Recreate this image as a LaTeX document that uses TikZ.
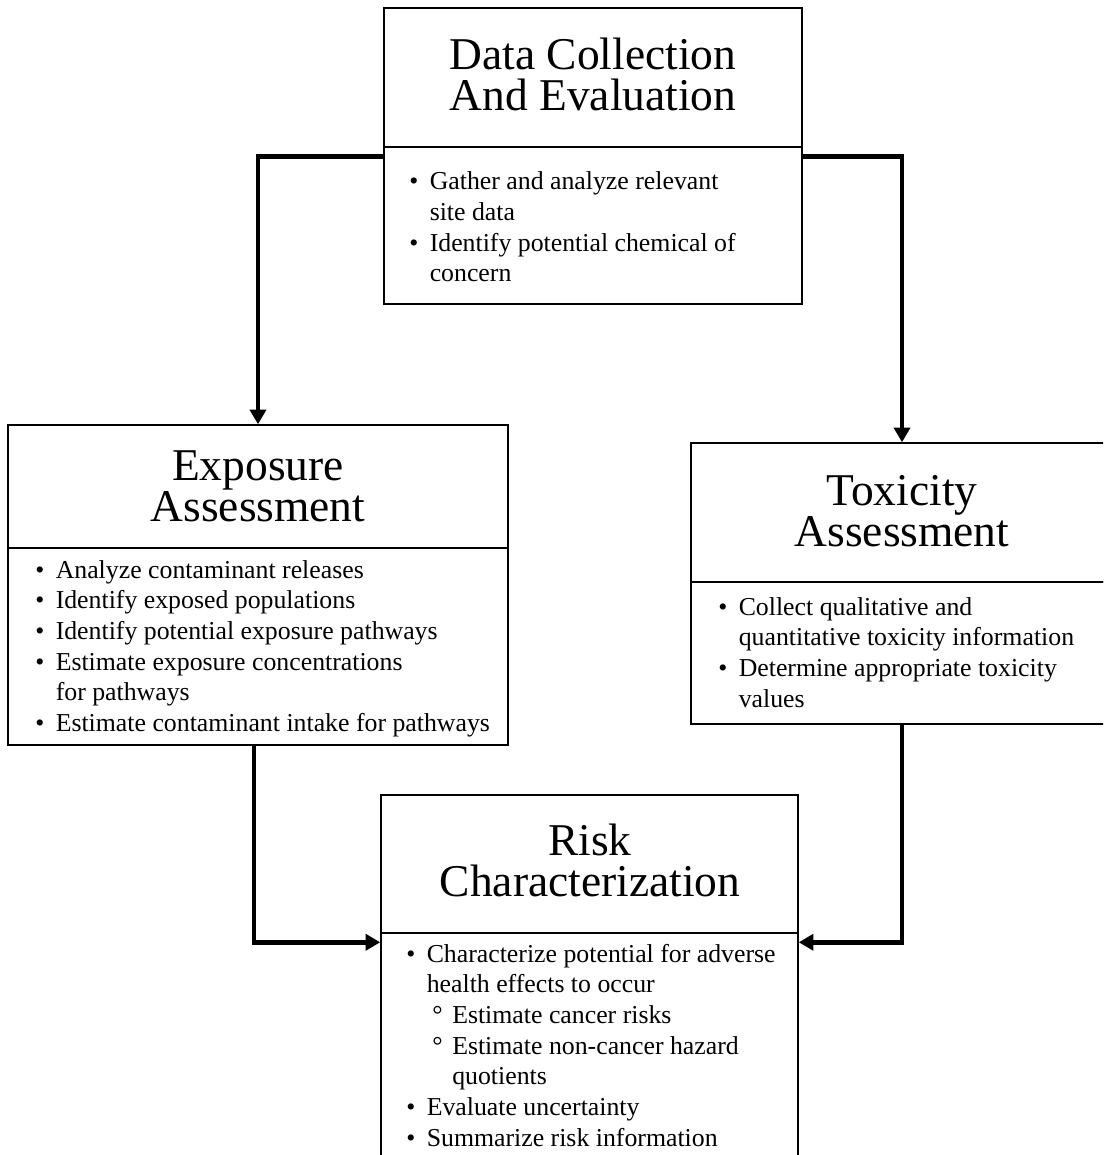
\documentclass[tikz,border=0pt]{standalone}
\usepackage{fontspec}
\setmainfont{Liberation Serif}
\usetikzlibrary{fit,arrows.meta}
\newlength\pxu
\setlength\pxu{0.75pt}
\newcommand{\titletxt}[1]{\begin{minipage}[t]{560\pxu}\centering\fontsize{34.1}{30.75}\selectfont #1\end{minipage}}
\newcommand{\bodytxt}[1]{\begin{minipage}[t]{560\pxu}\fontsize{19.35}{23}\selectfont\setlength\parindent{0pt}#1\end{minipage}}
\newcommand{\bl}{\makebox[20.5\pxu][l]{\textbullet}}
\newcommand{\ind}{\hspace*{20.5\pxu}}
\newcommand{\sbl}{\hspace*{26\pxu}\makebox[20\pxu][l]{°}}
\newcommand{\sind}{\hspace*{46\pxu}}
\begin{document}
\begin{tikzpicture}[x=0.75pt,y=-0.75pt,
  boxpart/.style={draw, line width=1.1pt, inner sep=0pt},
  conn/.style={line width=3.4pt, -{Triangle[length=11pt,width=12pt]}},
  titlenode/.style={inner sep=0pt, anchor=base},
  bodynode/.style={inner sep=0pt, anchor=base west}]
\useasboundingbox (0,0) rectangle (1103,1155);
\fill[white] (0,0) rectangle (1103,1155);
\clip (0,0) rectangle (1103,1155);

% boxes
\node[boxpart, fit={(384,8) (802,147)}] (dh) {};
\node[boxpart, fit={(384,147) (802,304)}] (db) {};
\node[boxpart, fit={(8,425) (508,548)}] (eh) {};
\node[boxpart, fit={(8,548) (508,745)}] (eb) {};
\node[boxpart, fit={(691,443) (1113,582)}] (th) {};
\node[boxpart, fit={(691,582) (1113,724)}] (tb) {};
\node[boxpart, fit={(381,795) (798,933)}] (rh) {};
\node[boxpart, fit={(381,933) (798,1200)}] (rb) {};

% titles
\node[titlenode] (dt) at (593,70) {\titletxt{Data Collection\\And Evaluation}};
\node[titlenode] (et) at (258,480) {\titletxt{Exposure\\Assessment}};
\node[titlenode] (tt) at (902,505) {\titletxt{Toxicity\\Assessment}};
\node[titlenode] (rt) at (590,855) {\titletxt{Risk\\Characterization}};

% bodies
\node[bodynode] (dx) at (409,190) {\bodytxt{%
\bl Gather and analyze relevant\par
\ind site data\par
\bl Identify potential chemical of\par
\ind concern}};
\node[bodynode] (ex) at (35,578) {\bodytxt{%
\bl Analyze contaminant releases\par
\bl Identify exposed populations\par
\bl Identify potential exposure pathways\par
\bl Estimate exposure concentrations\par
\ind for pathways\par
\bl Estimate contaminant intake for pathways}};
\node[bodynode] (tx) at (718,615) {\bodytxt{%
\bl Collect qualitative and\par
\ind quantitative toxicity information\par
\bl Determine appropriate toxicity\par
\ind values}};
\node[bodynode] (rx) at (406,962) {\bodytxt{%
\bl Characterize potential for adverse\par
\ind health effects to occur\par
\sbl Estimate cancer risks\par
\sbl Estimate non-cancer hazard\par
\sind quotients\par
\bl Evaluate uncertainty\par
\bl Summarize risk information}};

% connectors
\draw[conn] ([yshift=-7.5pt]db.north west) -| (eh.north);
\draw[conn] ([yshift=-7.5pt]db.north east) -| (th.north);
\draw[conn] ([xshift=-3pt]eb.south) |- ([yshift=-7.5pt]rb.north west);
\draw[conn] (tb.south) |- ([yshift=-7.5pt]rb.north east);
\end{tikzpicture}
\end{document}
